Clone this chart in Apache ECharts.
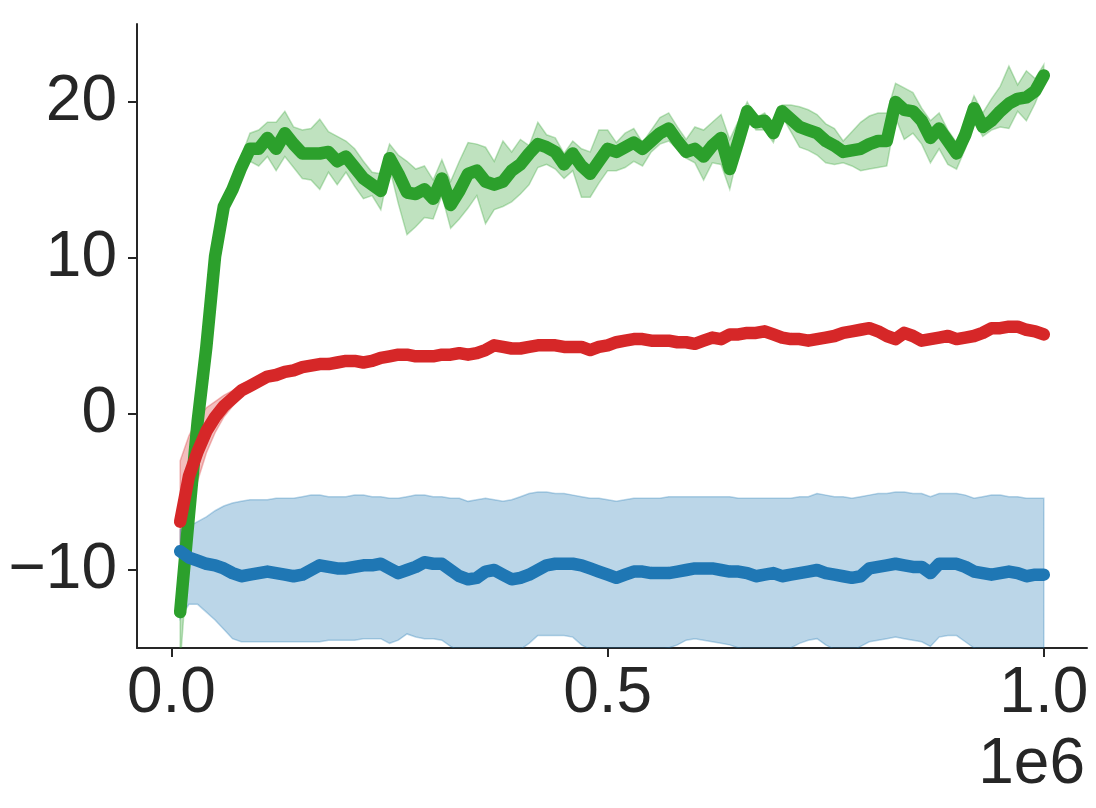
<!DOCTYPE html>
<html>
<head>
<meta charset="utf-8">
<script src="https://cdn.jsdelivr.net/npm/echarts@6/dist/echarts.min.js"></script>
<style>
html,body{margin:0;padding:0;background:#fff;}
#chart{width:1096px;height:808px;}
</style>
</head>
<body>
<div id="chart"></div>
<script>
// x positions of evaluations (environment steps)
const steps = [10000,20000,30000,40000,50000,60000,70000,80000,90000,100000,
110000,120000,130000,140000,150000,160000,170000,180000,190000,200000,
210000,220000,230000,240000,250000,260000,270000,280000,290000,300000,
310000,320000,330000,340000,350000,360000,370000,380000,390000,400000,
410000,420000,430000,440000,450000,460000,470000,480000,490000,500000,
510000,520000,530000,540000,550000,560000,570000,580000,590000,600000,
610000,620000,630000,640000,650000,660000,670000,680000,690000,700000,
710000,720000,730000,740000,750000,760000,770000,780000,790000,800000,
810000,820000,830000,840000,850000,860000,870000,880000,890000,900000,
910000,920000,930000,940000,950000,960000,970000,980000,990000,1000000];

const greenMean = [-12.7,-6.5,-0.5,4.3,10.1,13.3,14.4,15.8,17.0,17.0,
17.7,17.0,18.0,17.3,16.7,16.7,16.7,16.8,16.2,16.5,
15.8,15.1,14.7,14.3,16.4,15.4,14.2,14.1,14.4,13.8,
15.1,13.4,14.3,15.4,15.6,14.9,14.7,14.9,15.6,16.0,
16.7,17.3,17.1,16.8,16.0,16.7,15.9,15.4,16.2,17.0,
16.8,17.1,17.4,17.0,17.5,18.0,18.3,17.5,16.8,17.0,
16.5,17.2,17.7,15.7,17.5,19.4,18.7,18.8,18.0,19.4,
18.9,18.4,18.2,18.0,17.5,17.2,16.8,16.9,17.0,17.3,
17.5,17.5,20.0,19.5,19.4,18.8,17.7,18.3,17.5,16.7,
17.9,19.6,18.4,18.8,19.4,19.9,20.2,20.3,20.7,21.7];
const greenUpper = [-9.5,-4.5,1.0,5.3,10.8,13.8,15.0,16.5,18.0,18.2,
18.7,18.7,19.4,18.4,18.2,18.3,18.9,18.1,17.8,17.5,
17.0,16.2,15.5,15.4,17.3,16.6,16.2,15.7,15.9,15.0,
16.3,14.9,16.2,17.4,17.3,17.1,16.2,17.5,16.8,17.6,
17.2,18.7,17.9,17.7,16.7,17.5,17.0,16.8,18.2,18.2,
17.4,18.0,18.3,17.4,18.2,19.0,19.3,18.4,17.6,18.4,
18.2,18.7,19.2,17.6,18.8,20.0,19.0,19.3,18.5,19.8,
19.8,19.7,19.5,19.2,18.6,18.3,17.5,18.1,18.7,19.1,
19.3,19.3,21.2,20.9,20.6,19.6,18.8,19.3,18.2,17.4,
18.9,20.4,19.3,20.2,21.0,22.3,21.1,22.0,21.5,22.4];
const greenLower = [-16.0,-8.5,-2.0,3.3,9.4,12.8,13.8,15.2,16.2,15.9,
16.5,15.6,16.5,15.8,15.1,15.0,14.4,15.5,14.7,15.5,
14.6,13.8,14.0,13.1,15.8,13.5,11.5,12.0,12.6,12.5,
14.0,11.9,12.5,13.2,14.0,12.2,13.1,13.3,13.6,14.1,
14.7,15.8,16.0,15.7,15.1,15.6,13.9,13.9,14.8,15.6,
15.6,15.8,16.2,15.9,16.8,17.3,17.5,17.0,16.4,16.1,
15.0,16.1,16.0,14.4,16.8,19.1,18.2,18.2,17.4,19.1,
18.1,17.1,16.9,16.6,16.1,16.0,16.1,15.9,15.6,15.7,
15.8,15.9,19.0,17.6,18.0,17.3,16.1,17.0,16.0,15.7,
17.0,18.8,17.8,18.2,18.4,18.3,19.4,18.8,19.9,21.3];

const redMean = [-6.9,-4.0,-2.4,-1.1,-0.2,0.5,1.0,1.5,1.8,2.1,
2.4,2.5,2.7,2.8,3.0,3.1,3.2,3.2,3.3,3.4,
3.4,3.3,3.4,3.6,3.7,3.8,3.8,3.7,3.7,3.7,
3.8,3.8,3.9,3.8,3.9,4.1,4.4,4.3,4.2,4.2,
4.3,4.4,4.4,4.4,4.3,4.3,4.3,4.1,4.3,4.4,
4.6,4.7,4.8,4.8,4.7,4.7,4.7,4.6,4.6,4.5,
4.7,4.9,4.8,5.1,5.1,5.2,5.2,5.3,5.1,4.9,
4.8,4.8,4.7,4.8,4.9,5.0,5.2,5.3,5.4,5.5,
5.3,5.0,4.8,5.2,5.0,4.7,4.8,4.9,5.0,4.8,
4.9,5.0,5.2,5.5,5.5,5.6,5.6,5.4,5.3,5.1];
// red band is only wider than the line over the first evaluations
const redUpper = [-3.0,-1.4,-0.3,0.4,0.8,1.2,1.5,1.9,2.1,2.4];
const redLower = [-9.2,-6.4,-4.3,-2.5,-1.2,-0.2,0.5,1.1,1.5,1.8];

const blueMean = [-8.8,-9.2,-9.4,-9.6,-9.7,-9.9,-10.2,-10.4,-10.3,-10.2,
-10.1,-10.2,-10.3,-10.4,-10.3,-10.0,-9.7,-9.8,-9.9,-9.9,
-9.8,-9.7,-9.7,-9.6,-9.9,-10.2,-10.0,-9.8,-9.5,-9.6,
-9.6,-10.0,-10.4,-10.6,-10.5,-10.1,-10.0,-10.3,-10.6,-10.5,
-10.3,-10.0,-9.7,-9.6,-9.6,-9.6,-9.7,-9.9,-10.1,-10.3,
-10.5,-10.3,-10.1,-10.1,-10.2,-10.2,-10.2,-10.1,-10.0,-9.9,
-9.9,-9.9,-10.0,-10.1,-10.1,-10.2,-10.4,-10.3,-10.2,-10.4,
-10.3,-10.2,-10.1,-10.0,-10.2,-10.3,-10.4,-10.5,-10.4,-9.9,
-9.8,-9.7,-9.6,-9.7,-9.8,-9.8,-10.2,-9.6,-9.6,-9.6,
-9.8,-10.1,-10.2,-10.3,-10.2,-10.1,-10.2,-10.4,-10.3,-10.3];
const blueUpper = [-7.4,-7.2,-6.9,-6.6,-6.2,-5.9,-5.7,-5.6,-5.5,-5.5,
-5.5,-5.4,-5.4,-5.4,-5.3,-5.2,-5.2,-5.3,-5.3,-5.3,
-5.2,-5.2,-5.3,-5.3,-5.4,-5.4,-5.3,-5.2,-5.2,-5.3,
-5.3,-5.4,-5.4,-5.6,-5.5,-5.4,-5.5,-5.6,-5.5,-5.3,
-5.1,-5.0,-5.0,-5.1,-5.1,-5.2,-5.3,-5.4,-5.4,-5.5,
-5.6,-5.5,-5.4,-5.4,-5.4,-5.4,-5.3,-5.3,-5.3,-5.3,
-5.3,-5.3,-5.3,-5.3,-5.4,-5.4,-5.4,-5.4,-5.4,-5.4,
-5.4,-5.3,-5.3,-5.1,-5.2,-5.3,-5.3,-5.4,-5.3,-5.2,
-5.1,-5.1,-5.0,-5.0,-5.1,-5.1,-5.3,-5.1,-5.1,-5.1,
-5.2,-5.4,-5.3,-5.2,-5.2,-5.3,-5.3,-5.4,-5.4,-5.4];
const blueLower = [-13.1,-12.2,-12.2,-12.7,-13.2,-13.8,-14.4,-14.6,-14.6,-14.6,
-14.6,-14.6,-14.6,-14.6,-14.6,-14.6,-14.6,-14.5,-14.5,-14.5,
-14.5,-14.4,-14.4,-14.4,-14.7,-14.5,-14.1,-14.3,-14.4,-14.4,
-14.5,-14.9,-15.2,-15.4,-15.3,-15.1,-15.2,-15.4,-15.3,-15.1,
-14.7,-14.2,-14.2,-14.2,-14.2,-14.3,-14.8,-15.1,-15.3,-15.4,
-15.5,-15.3,-15.2,-15.1,-15.1,-15.1,-15.0,-14.8,-14.5,-14.4,
-14.5,-14.6,-14.7,-14.8,-15.0,-15.1,-15.3,-15.2,-15.1,-15.3,
-15.0,-14.7,-14.5,-14.4,-14.8,-15.1,-15.3,-15.2,-14.9,-14.6,
-14.5,-14.4,-14.3,-14.4,-14.5,-14.6,-14.9,-14.3,-14.2,-14.2,
-14.6,-15.0,-15.2,-15.3,-15.2,-15.1,-15.2,-15.4,-15.3,-15.3];

const xTicks = [0, 500000, 1000000];
const yTicks = [-10, 0, 10, 20];

const COLORS = {blue: '#1f77b4', red: '#d62728', green: '#2ca02c'};
const FONT = 'Liberation Sans, Arial, sans-serif';
const INK = '#262626';

function rgba(hex, a) {
  const n = parseInt(hex.slice(1), 16);
  return 'rgba(' + (n >> 16) + ',' + ((n >> 8) & 255) + ',' + (n & 255) + ',' + a + ')';
}
function pairs(xs, ys) { return ys.map((v, i) => [xs[i], v]); }

// shaded band drawn as one polygon through the axis scales (api.coord)
function band(id, lo, up, color) {
  const xs = steps.slice(0, lo.length);
  const rows = xs.map((x, i) => [x, lo[i], up[i]]);
  return {
    type: 'custom', name: id + '_band', data: rows, z: 2, silent: true, clip: true,
    encode: {x: 0, y: [1, 2]},
    renderItem: function (params, api) {
      if (params.dataIndex !== 0) return null;
      const cs = params.coordSys;
      const rect = {x: cs.x, y: cs.y, width: cs.width, height: cs.height};
      const upperPts = rows.map(r => api.coord([r[0], r[2]]));
      const lowerPts = rows.map(r => api.coord([r[0], r[1]]));
      const poly = upperPts.concat(lowerPts.slice().reverse());
      return {
        type: 'group',
        clipPath: {type: 'rect', shape: rect},
        children: [{
          type: 'polygon', shape: {points: poly},
          style: {fill: rgba(color, 0.3), stroke: rgba(color, 0.3), lineWidth: 1.5}
        }]
      };
    }
  };
}
function meanLine(id, ys, color) {
  return {type: 'line', name: id, data: pairs(steps, ys), showSymbol: false, symbol: 'none',
    lineStyle: {color: color, width: 12.5, cap: 'round', join: 'round'}, z: 5, silent: true};
}

const chart = echarts.init(document.getElementById('chart'), null, {renderer: 'canvas'});
chart.setOption({
  animation: false,
  backgroundColor: '#ffffff',
  grid: {left: 137, right: 9, top: 24, bottom: 160, containLabel: false},
  xAxis: {
    type: 'value', min: -39500, max: 1049500,
    splitLine: {show: false},
    axisLine: {show: true, onZero: false, lineStyle: {color: INK, width: 2}},
    axisTick: {show: true, customValues: xTicks, length: 9, lineStyle: {color: INK, width: 2}},
    axisLabel: {show: true, customValues: xTicks, margin: 14, fontSize: 64, fontFamily: FONT, color: INK,
      formatter: v => (v / 1e6).toFixed(1)}
  },
  yAxis: {
    type: 'value', min: -15, max: 25,
    splitLine: {show: false},
    axisLine: {show: true, onZero: false, lineStyle: {color: INK, width: 2}},
    axisTick: {show: true, customValues: yTicks, length: 9, lineStyle: {color: INK, width: 2}},
    axisLabel: {show: true, customValues: yTicks, margin: 20, fontSize: 64, fontFamily: FONT, color: INK,
      formatter: v => (v < 0 ? '\u2212' + Math.abs(v) : String(v))}
  },
  graphic: [{type: 'text', right: 11, top: 733,
    style: {text: '1e6', fontSize: 64, fontFamily: FONT, fill: INK}}],
  series: [
    band('green', greenLower, greenUpper, COLORS.green),
    band('red', redLower, redUpper, COLORS.red),
    band('blue', blueLower, blueUpper, COLORS.blue),
    meanLine('green', greenMean, COLORS.green),
    meanLine('red', redMean, COLORS.red),
    meanLine('blue', blueMean, COLORS.blue)
  ]
});
</script>
</body>
</html>
